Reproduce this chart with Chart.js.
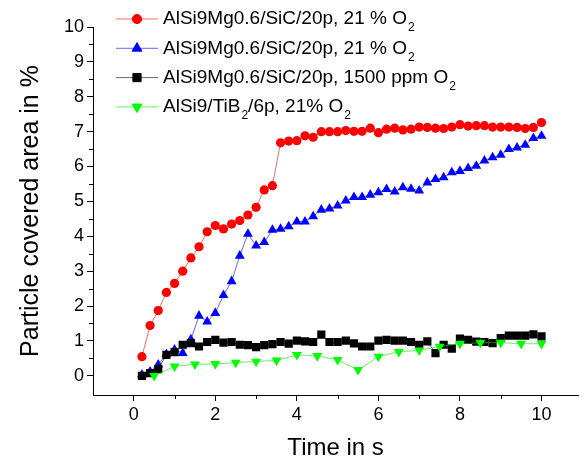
<!DOCTYPE html>
<html><head><meta charset="utf-8">
<script src="https://cdn.jsdelivr.net/npm/chart.js@4.4.0/dist/chart.umd.min.js"></script>
<style>html,body{margin:0;padding:0;background:#fff;}canvas{display:block;}</style>
</head><body>
<canvas id="c" width="584" height="463"></canvas>
<script>
const timeFine = [0.2,0.4,0.6,0.8,1.0,1.2,1.4,1.6,1.8,2.0,2.2,2.4,2.6,2.8,3.0,3.2,3.4,3.6,3.8,4.0,4.2,4.4,4.6,4.8,5.0,5.2,5.4,5.6,5.8,6.0,6.2,6.4,6.6,6.8,7.0,7.2,7.4,7.6,7.8,8.0,8.2,8.4,8.6,8.8,9.0,9.2,9.4,9.6,9.8,10.0];
const timeCoarse = [0.5,1.0,1.5,2.0,2.5,3.0,3.5,4.0,4.5,5.0,5.5,6.0,6.5,7.0,7.5,8.0,8.5,9.0,9.5,10.0];
const redValues = [0.55,1.44,1.87,2.39,2.65,3.0,3.38,3.7,4.13,4.31,4.21,4.35,4.45,4.61,4.83,5.33,5.45,6.68,6.73,6.74,6.88,6.84,7.0,7.0,7.0,7.03,7.01,7.01,7.1,6.97,7.07,7.1,7.05,7.07,7.13,7.12,7.1,7.09,7.13,7.2,7.16,7.17,7.17,7.13,7.13,7.13,7.12,7.09,7.12,7.26];
const blueValues = [0.03,0.12,0.32,0.62,0.75,0.65,1.04,1.72,1.55,1.8,2.31,2.71,3.44,4.07,3.73,3.83,4.18,4.21,4.28,4.42,4.42,4.57,4.76,4.79,4.88,5.02,5.12,5.12,5.19,5.26,5.35,5.28,5.4,5.36,5.31,5.54,5.64,5.69,5.83,5.87,5.95,6.02,6.17,6.26,6.33,6.5,6.54,6.62,6.81,6.88];
const blackValues = [0.0,0.08,0.19,0.6,0.68,0.89,0.94,0.84,0.97,1.03,0.95,0.97,0.89,0.88,0.82,0.88,0.91,0.97,0.92,1.01,0.99,0.97,1.18,0.97,0.97,1.01,0.93,0.84,0.84,1.01,1.03,1.01,1.01,0.97,0.89,0.99,0.65,0.89,0.78,1.07,1.03,0.98,0.97,0.94,1.08,1.15,1.15,1.15,1.19,1.13];
const greenValues = [0.0,0.27,0.33,0.34,0.38,0.41,0.44,0.6,0.57,0.46,0.17,0.55,0.69,0.73,0.84,0.92,0.95,0.95,0.92,0.92];
const seriesLabels = ["AlSi9Mg0.6/SiC/20p, 21 % O_2","AlSi9Mg0.6/SiC/20p, 21 % O_2","AlSi9Mg0.6/SiC/20p, 1500 ppm O_2","AlSi9/TiB_2/6p, 21% O_2"];
const xTickValues = [0,2,4,6,8,10];
const xMinorTickValues = [1,3,5,7,9];
const yTickValues = [0,1,2,3,4,5,6,7,8,9,10];
const yMinorTickValues = [0.5,1.5,2.5,3.5,4.5,5.5,6.5,7.5,8.5,9.5];
const xTitle = "Time in s";
const yTitle = "Particle covered area in %";

const FONT = "'Liberation Sans', Arial, Helvetica, sans-serif";
const pts = (xs, ys) => xs.map((x, i) => ({x: x, y: ys[i]}));

function drawRich(ctx, text, x, y) {
  const parts = text.split(/_(.)/);
  let cx = x;
  ctx.textAlign = 'left';
  ctx.textBaseline = 'middle';
  ctx.fillStyle = '#000';
  parts.forEach((p, i) => {
    if (!p) return;
    if (i % 2 === 1) {
      ctx.font = '12px ' + FONT;
      ctx.fillText(p, cx + 1, y + 9);
      cx += ctx.measureText(p).width + 1;
    } else {
      ctx.font = '19px ' + FONT;
      ctx.fillText(p, cx, y);
      cx += ctx.measureText(p).width;
    }
  });
}

const legendPlugin = {
  id: 'insideLegend',
  afterDraw(chart) {
    const ctx = chart.ctx;
    ctx.save();
    chart.data.datasets.forEach((ds, i) => {
      const y = 19 + i * 29.3;
      ctx.strokeStyle = ds.borderColor;
      ctx.lineWidth = 1;
      ctx.beginPath(); ctx.moveTo(116, y); ctx.lineTo(158, y); ctx.stroke();
      ctx.fillStyle = ds.pointBackgroundColor;
      ctx.strokeStyle = ds.pointBorderColor;
      ctx.lineWidth = 1;
      Chart.helpers.drawPoint(ctx, {pointStyle: ds.pointStyle, rotation: ds.pointRotation || 0, radius: ds.pointRadius, borderWidth: 1}, 137, y);
      drawRich(ctx, seriesLabels[i], 163, y);
    });
    ctx.restore();
  }
};

const minorTickPlugin = {
  id: 'minorTicks',
  afterDraw(chart) {
    const ctx = chart.ctx;
    const xs = chart.scales.x, ys = chart.scales.y;
    ctx.save();
    ctx.strokeStyle = '#000';
    ctx.lineWidth = 1;
    ctx.beginPath();
    xMinorTickValues.forEach(v => {
      const px = Math.round(xs.getPixelForValue(v)) + 0.5;
      ctx.moveTo(px, ys.bottom); ctx.lineTo(px, ys.bottom + 4);
    });
    yMinorTickValues.forEach(v => {
      const py = Math.round(ys.getPixelForValue(v)) + 0.5;
      ctx.moveTo(xs.left, py); ctx.lineTo(xs.left - 4, py);
    });
    ctx.stroke();
    ctx.restore();
  }
};

const bgPlugin = {
  id: 'bg',
  beforeDraw(chart) {
    const ctx = chart.ctx;
    ctx.save(); ctx.fillStyle = '#fff'; ctx.fillRect(0, 0, chart.width, chart.height); ctx.restore();
  }
};

new Chart(document.getElementById('c'), {
  type: 'line',
  data: {
    datasets: [
      {data: pts(timeFine, redValues), borderColor: 'rgba(255,0,0,0.6)', borderWidth: 1, pointBackgroundColor: '#ff0000', pointBorderColor: '#ff0000', pointStyle: 'circle', pointRadius: 4.6, pointBorderWidth: 0, order: 4},
      {data: pts(timeFine, blueValues), borderColor: 'rgba(0,0,255,0.6)', borderWidth: 1, pointBackgroundColor: '#0000ff', pointBorderColor: '#0000ff', pointStyle: 'triangle', pointRadius: 5.7, pointBorderWidth: 0, order: 3},
      {data: pts(timeFine, blackValues), borderColor: 'rgba(0,0,0,0.6)', borderWidth: 1, pointBackgroundColor: '#000000', pointBorderColor: '#000000', pointStyle: 'rect', pointRadius: 5.8, pointBorderWidth: 0, order: 2},
      {data: pts(timeCoarse, greenValues), borderColor: 'rgba(0,230,0,0.6)', borderWidth: 1, pointBackgroundColor: '#00ff00', pointBorderColor: '#00ff00', pointStyle: 'triangle', pointRotation: 180, pointRadius: 5.7, pointBorderWidth: 0, order: 1}
    ]
  },
  options: {
    responsive: false,
    animation: false,
    devicePixelRatio: 1,
    layout: {padding: {top: 27, right: 1, bottom: 0, left: 0}},
    plugins: {legend: {display: false}, tooltip: {enabled: false}},
    elements: {line: {tension: 0}},
    scales: {
      x: {
        type: 'linear', min: -1, max: 10.9,
        afterBuildTicks: s => { s.ticks = xTickValues.map(v => ({value: v})); },
        afterFit: s => { s.height = 68; },
        grid: {display: true, drawOnChartArea: false, drawTicks: true, tickLength: 6, color: '#000', tickColor: '#000'},
        border: {display: true, color: '#000', width: 1},
        ticks: {font: {family: FONT, size: 18}, color: '#000', padding: 3, maxRotation: 0, autoSkip: false},
        title: {display: true, text: xTitle, font: {family: FONT, size: 24, lineHeight: 1}, color: '#000', padding: {top: 0, bottom: 3}}
      },
      y: {
        type: 'linear', min: -0.55, max: 10,
        afterBuildTicks: s => { s.ticks = yTickValues.map(v => ({value: v})); },
        afterFit: s => { s.width = 93; },
        grid: {display: true, drawOnChartArea: false, drawTicks: true, tickLength: 6, color: '#000', tickColor: '#000'},
        border: {display: true, color: '#000', width: 1},
        ticks: {font: {family: FONT, size: 18}, color: '#000', padding: 3, autoSkip: false},
        title: {display: true, text: yTitle, font: {family: FONT, size: 25, lineHeight: 1}, color: '#000', padding: {top: 18.5, bottom: 0}}
      }
    }
  },
  plugins: [bgPlugin, minorTickPlugin, legendPlugin]
});
</script>
</body></html>
